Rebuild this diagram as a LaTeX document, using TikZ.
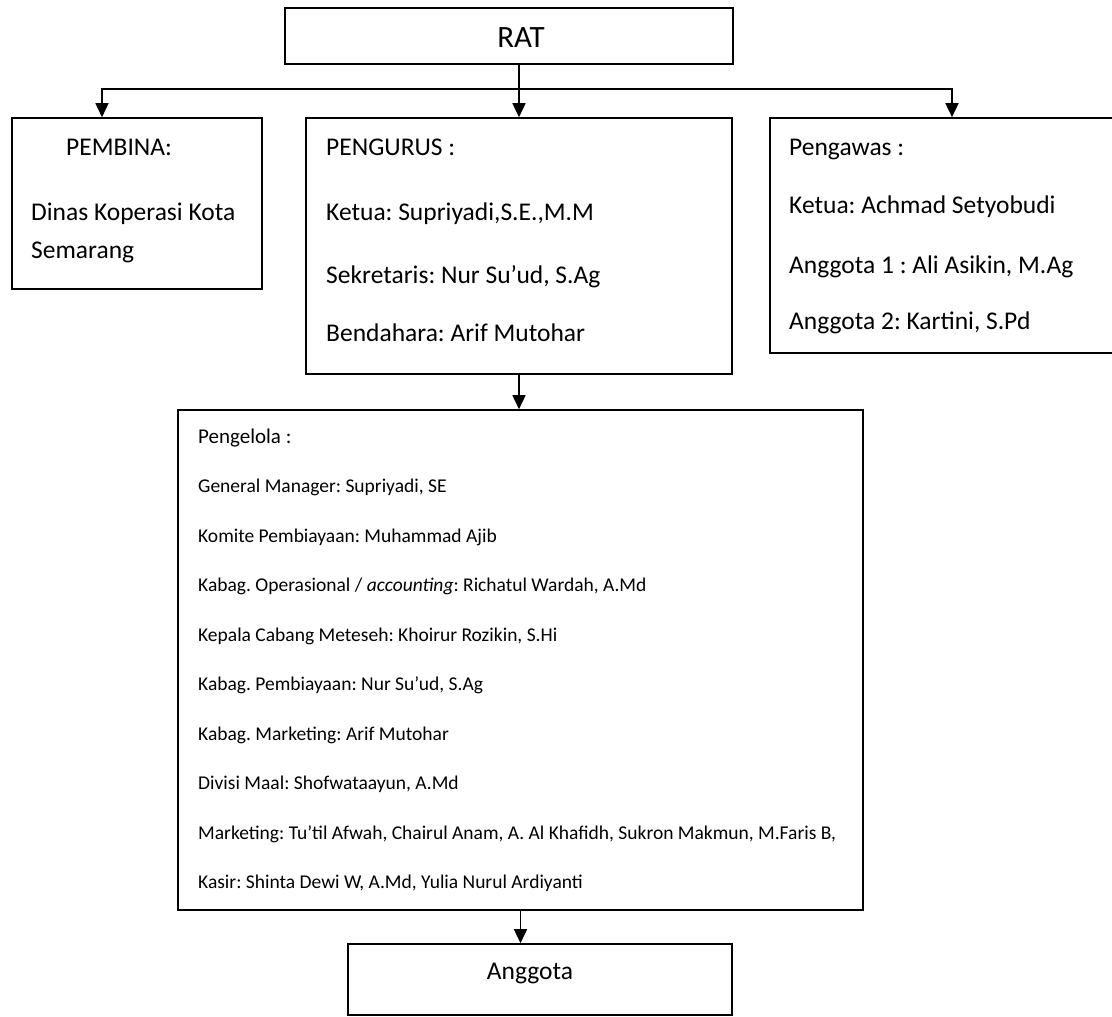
\documentclass[tikz,border=0pt]{standalone}
\usepackage{fontspec}
\setmainfont{Carlito}
\usetikzlibrary{arrows.meta}
\frenchspacing

\begin{document}
\begin{tikzpicture}[x=1pt, y=-1pt,
    box/.style ={rectangle, draw, line width=1.6pt, inner sep=0pt},
    flow/.style ={line width=1.6pt, -{Triangle[width=13pt,length=14pt]}},
    txt/.style ={anchor=base west, inner sep=0pt, font=\fontsize{25.5}{30}\selectfont},
    item/.style ={anchor=base west, inner sep=0pt, font=\fontsize{19.5}{23}\selectfont}]
   \useasboundingbox (0,0) rectangle (1112,1017);

   \node[box, minimum width=448pt, minimum height=56pt] (rat) at (509,36) {};
   \node[box, minimum width=250pt, minimum height=171pt] (pembina) at (137,203.5) {};
   \node[box, minimum width=426pt, minimum height=256pt] (pengurus) at (519,246) {};
   \node[box, minimum width=350pt, minimum height=235pt] (pengawas) at (945,235.5) {};
   \node[box, minimum width=685pt, minimum height=500pt] (pengelola) at (520.5,660) {};
   \node[box, minimum width=384pt, minimum height=71pt] (anggota) at (540,979.5) {};

   \node[anchor=base, inner sep=0pt, font=\fontsize{31}{36}\selectfont] (ratT) at (521,47) {RAT};
   \node[anchor=base, inner sep=0pt, font=\fontsize{25.5}{30}\selectfont] (anggotaT) at (530,979) {Anggota};

   \node[txt] (pembina1) at (66,155) {PEMBINA:};
   \node[txt] (pembina2) at (31,220) {Dinas Koperasi Kota};
   \node[txt] (pembina3) at (31,258) {Semarang};

   \node[txt] (pengurus1) at (326,155) {PENGURUS :};
   \node[txt] (pengurus2) at (326,220) {Ketua: Supriyadi,S.E.,M.M};
   \node[txt] (pengurus3) at (326,283) {Sekretaris: Nur Su’ud, S.Ag};
   \node[txt] (pengurus4) at (326,341) {Bendahara: Arif Mutohar};

   \node[txt] (pengawas1) at (789,155) {Pengawas :};
   \node[txt] (pengawas2) at (789,213) {Ketua: Achmad Setyobudi};
   \node[txt] (pengawas3) at (789,273) {Anggota 1 : Ali Asikin, M.Ag};
   \node[txt] (pengawas4) at (789,329) {Anggota 2: Kartini, S.Pd};

   \node[anchor=base west, inner sep=0pt, font=\fontsize{21}{25}\selectfont] (pengelola0) at (198,443) {Pengelola :};
   \node[item] (pengelola1) at (198,492) {General Manager: Supriyadi, SE};
   \node[item] (pengelola2) at (198,542) {Komite Pembiayaan: Muhammad Ajib};
   \node[item] (pengelola3) at (198,591) {Kabag. Operasional / \textit{accounting}: Richatul Wardah, A.Md};
   \node[item] (pengelola4) at (198,641) {Kepala Cabang Meteseh: Khoirur Rozikin, S.Hi};
   \node[item] (pengelola5) at (198,690) {Kabag. Pembiayaan: Nur Su’ud, S.Ag};
   \node[item] (pengelola6) at (198,740) {Kabag. Marketing: Arif Mutohar};
   \node[item] (pengelola7) at (198,789) {Divisi Maal: Shofwataayun, A.Md};
   \node[item] (pengelola8) at (198,839) {Marketing: Tu’til Afwah, Chairul Anam, A. Al Khafidh, Sukron Makmun, M.Faris B,};
   \node[item] (pengelola9) at (198,888) {Kasir: Shinta Dewi W, A.Md, Yulia Nurul Ardiyanti};

   \coordinate (left) at (102,89);
   \coordinate (right) at (952,89);

   \draw[flow] (rat.south -| pengurus.north) to (pengurus.north);
   \draw[flow] (right) -- (left) -- (left |- pembina.north);
   \draw[flow] (left) -- (right) -- (right |- pengawas.north);

   \draw[flow] (pengurus.south) to (pengurus.south |- pengelola.north);
   \draw[flow] (pengelola.south) to (pengelola.south |- anggota.north);

 \end{tikzpicture}
\end{document}
